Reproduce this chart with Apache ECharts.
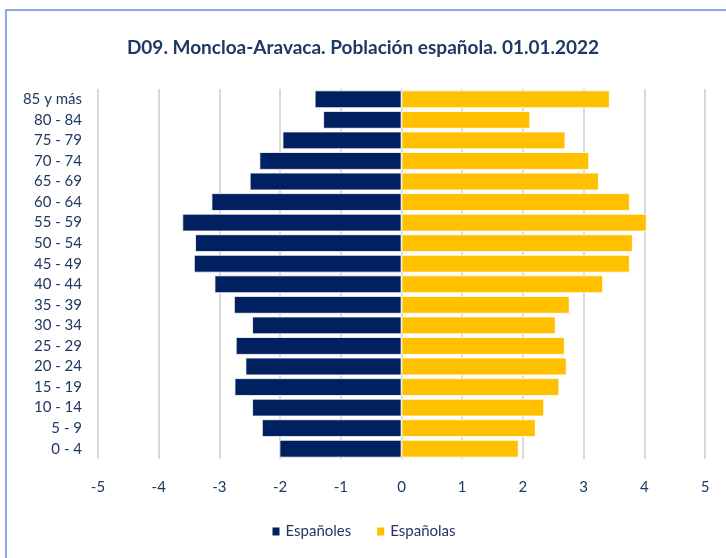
<!DOCTYPE html>
<html>
<head>
<meta charset="utf-8">
<script src="https://cdn.jsdelivr.net/npm/echarts@6/dist/echarts.min.js"></script>
<style>
  html, body { margin: 0; padding: 0; background: #fff; }
  #chart { width: 726px; height: 558px; }
</style>
</head>
<body>
<div id="chart"></div>
<script>
var ageGroups = ['0 - 4', '5 - 9', '10 - 14', '15 - 19', '20 - 24', '25 - 29', '30 - 34', '35 - 39',
  '40 - 44', '45 - 49', '50 - 54', '55 - 59', '60 - 64', '65 - 69', '70 - 74', '75 - 79', '80 - 84', '85 y más'];
// percentages, men shown on the left as negatives
var espanoles = [-2.01, -2.30, -2.46, -2.75, -2.57, -2.73, -2.46, -2.76,
  -3.08, -3.42, -3.40, -3.61, -3.13, -2.50, -2.34, -1.96, -1.29, -1.43];
var espanolas = [1.93, 2.21, 2.35, 2.60, 2.72, 2.69, 2.54, 2.77,
  3.32, 3.76, 3.81, 4.04, 3.76, 3.25, 3.09, 2.70, 2.12, 3.43];

var navy = '#002060';
var gold = '#ffc000';
var txt = '#1f3864';
var font = 'Lato, "Liberation Sans", sans-serif';

var myChart = echarts.init(document.getElementById('chart'));

option = {
  backgroundColor: '#fff',
  textStyle: { fontFamily: font },
  graphic: [
    {
      type: 'rect',
      shape: { x: 6, y: 10, width: 740, height: 570 },
      style: { fill: 'none', stroke: '#8faadc', lineWidth: 2 },
      silent: true
    }
  ],
  title: {
    text: 'D09. Moncloa-Aravaca. Población española. 01.01.2022',
    left: 'center',
    top: 33,
    textStyle: { fontFamily: font, fontSize: 19, fontWeight: 'bold', color: txt }
  },
  legend: {
    data: ['Españoles', 'Españolas'],
    bottom: 14,
    left: 'center',
    itemWidth: 9,
    itemHeight: 10,
    itemGap: 24,
    icon: 'rect',
    textStyle: { fontFamily: font, fontSize: 15, color: txt }
  },
  grid: { left: 98, right: 21, top: 89, bottom: 99 },
  xAxis: {
    type: 'value',
    min: -5,
    max: 5,
    interval: 1,
    axisLine: { show: false },
    axisTick: { show: false },
    axisLabel: { fontFamily: font, fontSize: 15, color: txt, margin: 21 },
    splitLine: { show: true, lineStyle: { color: '#d9d9d9', width: 2 } }
  },
  yAxis: {
    type: 'category',
    data: ageGroups,
    axisLine: { show: false },
    axisTick: { show: false },
    axisLabel: { fontFamily: font, fontSize: 15, color: txt, margin: 16 }
  },
  series: [
    {
      name: 'Españoles',
      type: 'bar',
      stack: 'pir',
      barCategoryGap: '14%',
      itemStyle: { color: navy, borderColor: '#fff', borderWidth: 0.8 },
      data: espanoles
    },
    {
      name: 'Españolas',
      type: 'bar',
      stack: 'pir',
      barCategoryGap: '14%',
      itemStyle: { color: gold, borderColor: '#fff', borderWidth: 0.8 },
      data: espanolas
    }
  ]
};

myChart.setOption(option);
</script>
</body>
</html>
